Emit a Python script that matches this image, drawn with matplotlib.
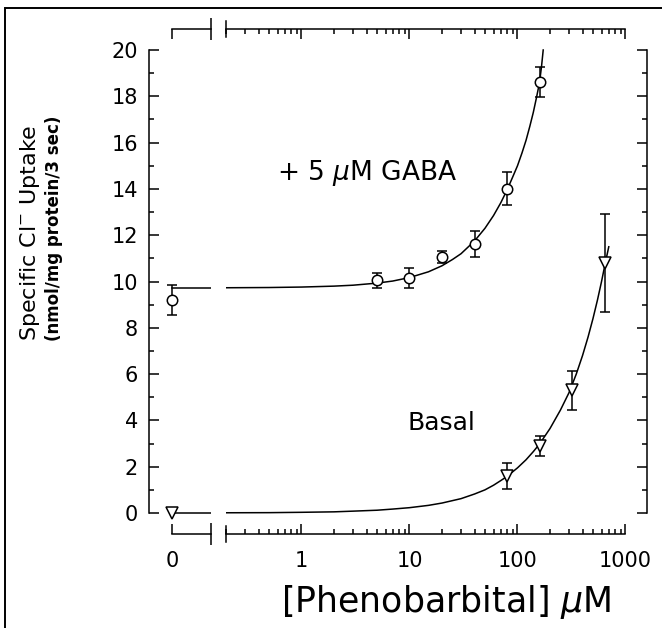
import numpy as np
import matplotlib
matplotlib.use("Agg")
import matplotlib.pyplot as plt
from matplotlib.patches import Rectangle
from matplotlib.ticker import FixedLocator, FixedFormatter, LogLocator, NullFormatter

plt.rcParams["font.family"] = ["DejaVu Sans"]
plt.rcParams["mathtext.fontset"] = "dejavusans"

# measured points (uM phenobarbital, specific Cl- uptake)
gaba_zero, gaba_zero_err = 9.2, 0.65
gaba_x = [5, 10, 20, 40, 80, 160]
gaba_y = [10.06, 10.15, 11.06, 11.6, 14.0, 18.6]
gaba_err = [0.32, 0.43, 0.25, 0.56, 0.71, 0.65]

basal_zero = 0.0
basal_x = [80, 160, 320, 640]
basal_y = [1.6, 2.9, 5.3, 10.8]
basal_err = [0.55, 0.43, 0.85, 2.13]

# fitted curves
gaba_fit_zero = 9.72
gaba_fit_x = [0.2, 0.5, 1, 2, 3, 5, 7, 10, 15, 20, 25, 30, 40, 50, 60, 70, 80, 90,
              100, 110, 120, 130, 140, 150, 160, 167, 173]
gaba_fit_y = [9.73, 9.74, 9.76, 9.8, 9.84, 9.93, 10.02, 10.17, 10.42, 10.68, 10.95, 11.2,
              11.75, 12.3, 12.85, 13.4, 13.95, 14.5, 15.0, 15.55, 16.1, 16.7, 17.3, 17.95,
              18.6, 19.3, 20.0]
basal_fit_zero = 0.0
basal_fit_x = [0.2, 0.5, 1, 2, 3, 5, 7, 10, 15, 20, 30, 40, 50, 60, 70, 80, 100, 120,
               140, 160, 200, 250, 300, 350, 400, 450, 500, 550, 600, 650, 700]
basal_fit_y = [0.01, 0.015, 0.03, 0.05, 0.08, 0.12, 0.17, 0.23, 0.33, 0.43, 0.62, 0.82,
               1.0, 1.2, 1.4, 1.58, 1.95, 2.3, 2.65, 2.98, 3.65, 4.45, 5.2, 6.0, 6.8,
               7.6, 8.4, 9.2, 10.0, 10.8, 11.5]

W, H = 662, 628


def box(x0, x1, ytop, ybot):
    return [x0 / W, 1 - ybot / H, (x1 - x0) / W, (ybot - ytop) / H]


fig = plt.figure(figsize=(W / 100, H / 100), dpi=100)
fig.patches.append(Rectangle((5 / W, -0.1), 1.2, 1.1 - 8 / H, transform=fig.transFigure,
                             fill=False, lw=1.4, ec="k", clip_on=False))

ax_z = fig.add_axes(box(149, 211, 29, 534))
ax_l = fig.add_axes(box(226, 647, 29, 534))

ylim = (-21 / 23.15, 20 + 21 / 23.15)
LW = 1.1
for ax in (ax_z, ax_l):
    ax.set_ylim(*ylim)
    ax.patch.set_alpha(0)
    for s in ax.spines.values():
        s.set_linewidth(LW)
    ax.yaxis.set_major_locator(FixedLocator(np.arange(0, 21, 2)))
    ax.yaxis.set_minor_locator(FixedLocator(np.arange(1, 20, 2)))
    ax.tick_params(axis="y", which="major", direction="in", length=7, width=LW, labelsize=15, pad=8)
    ax.tick_params(axis="y", which="minor", direction="in", length=3.5, width=LW)

# zero segment
ax_z.set_xlim(-23 / 39, 1)
ax_z.spines["right"].set_visible(False)
ax_z.spines["left"].set_bounds(0, 20)
ax_z.spines["bottom"].set_bounds(0, 1)
ax_z.spines["top"].set_bounds(0, 1)
ax_z.xaxis.set_major_locator(FixedLocator([1]))
ax_z.xaxis.set_major_formatter(FixedFormatter([""]))
ax_z.xaxis.set_minor_locator(FixedLocator([0]))
ax_z.xaxis.set_minor_formatter(FixedFormatter(["0"]))
ax_z.tick_params(axis="x", which="major", direction="inout", length=16, width=LW,
                 top=True, bottom=True)
ax_z.tick_params(axis="x", which="minor", direction="in", length=7, width=LW,
                 top=True, bottom=True, labelbottom=True, labelsize=15, pad=12)
ax_z.tick_params(axis="y", left=True, right=False)

# log segment
ax_l.set_xscale("log")
ax_l.set_xlim(0.2, 10 ** (3 + 21.5 / 108))
ax_l.spines["left"].set_visible(False)
ax_l.spines["right"].set_bounds(0, 20)
ax_l.spines["bottom"].set_bounds(0.2, 1000)
ax_l.spines["top"].set_bounds(0.2, 1000)
ax_l.set_xticks([1, 10, 100, 1000], labels=["1", "10", "100", "1000"])
ax_l.xaxis.set_minor_locator(LogLocator(subs=np.arange(2, 10)))
ax_l.xaxis.set_minor_formatter(NullFormatter())
ax_l.tick_params(axis="x", which="major", direction="in", length=7, width=LW,
                 top=True, bottom=True, labelsize=15, pad=12)
ax_l.tick_params(axis="x", which="minor", direction="in", length=3.5, width=LW,
                 top=True, bottom=True)
ax_l.tick_params(axis="y", which="both", left=False, right=True, labelleft=False)
xt = ax_l.get_xaxis_transform()
for yy in ([-0.016, 0.016], [0.984, 1.016]):
    ax_l.plot([0.2, 0.2], yy, color="k", lw=LW, transform=xt, clip_on=False)

mk = dict(mfc="white", mec="k", mew=1.1, color="k", elinewidth=1.1, capsize=3.3, capthick=1.1,
          ecolor="k", ls="none", zorder=3)

# fits
ax_z.plot([0, 1], [gaba_fit_zero] * 2, color="k", lw=1.1)
ax_z.plot([0, 1], [basal_fit_zero] * 2, color="k", lw=1.1)
ax_l.plot(gaba_fit_x, gaba_fit_y, color="k", lw=1.1)
ax_l.plot(basal_fit_x, basal_fit_y, color="k", lw=1.1)

# data
ax_z.errorbar([0], [gaba_zero], yerr=[gaba_zero_err], fmt="o", ms=7.5, **mk)
ax_z.plot([0], [basal_zero], "v", ms=8, mfc="white", mec="k", mew=1.1, zorder=3, clip_on=False)
ax_l.errorbar(gaba_x, gaba_y, yerr=gaba_err, fmt="o", ms=7.5, **mk)
ax_l.errorbar(basal_x, basal_y, yerr=basal_err, fmt="v", ms=8, **mk)

ax_l.text(4, 14.7, r"+ 5 $\mu$M GABA", ha="center", va="center", fontsize=19)
ax_l.text(19.6, 3.9, "Basal", ha="center", va="center", fontsize=18)

fig.text(30 / W, 1 - 233 / H, r"Specific Cl$^{-}$ Uptake", rotation=90,
         ha="center", va="center", fontsize=16)
fig.text(54 / W, 1 - 228 / H, "(nmol/mg protein/3 sec)", rotation=90,
         ha="center", va="center", fontsize=12, fontweight="bold")
fig.text(446 / W, 1 - 602 / H, r"[Phenobarbital] $\mu$M", ha="center", va="center", fontsize=25)

fig.savefig("out.png", dpi=100)
